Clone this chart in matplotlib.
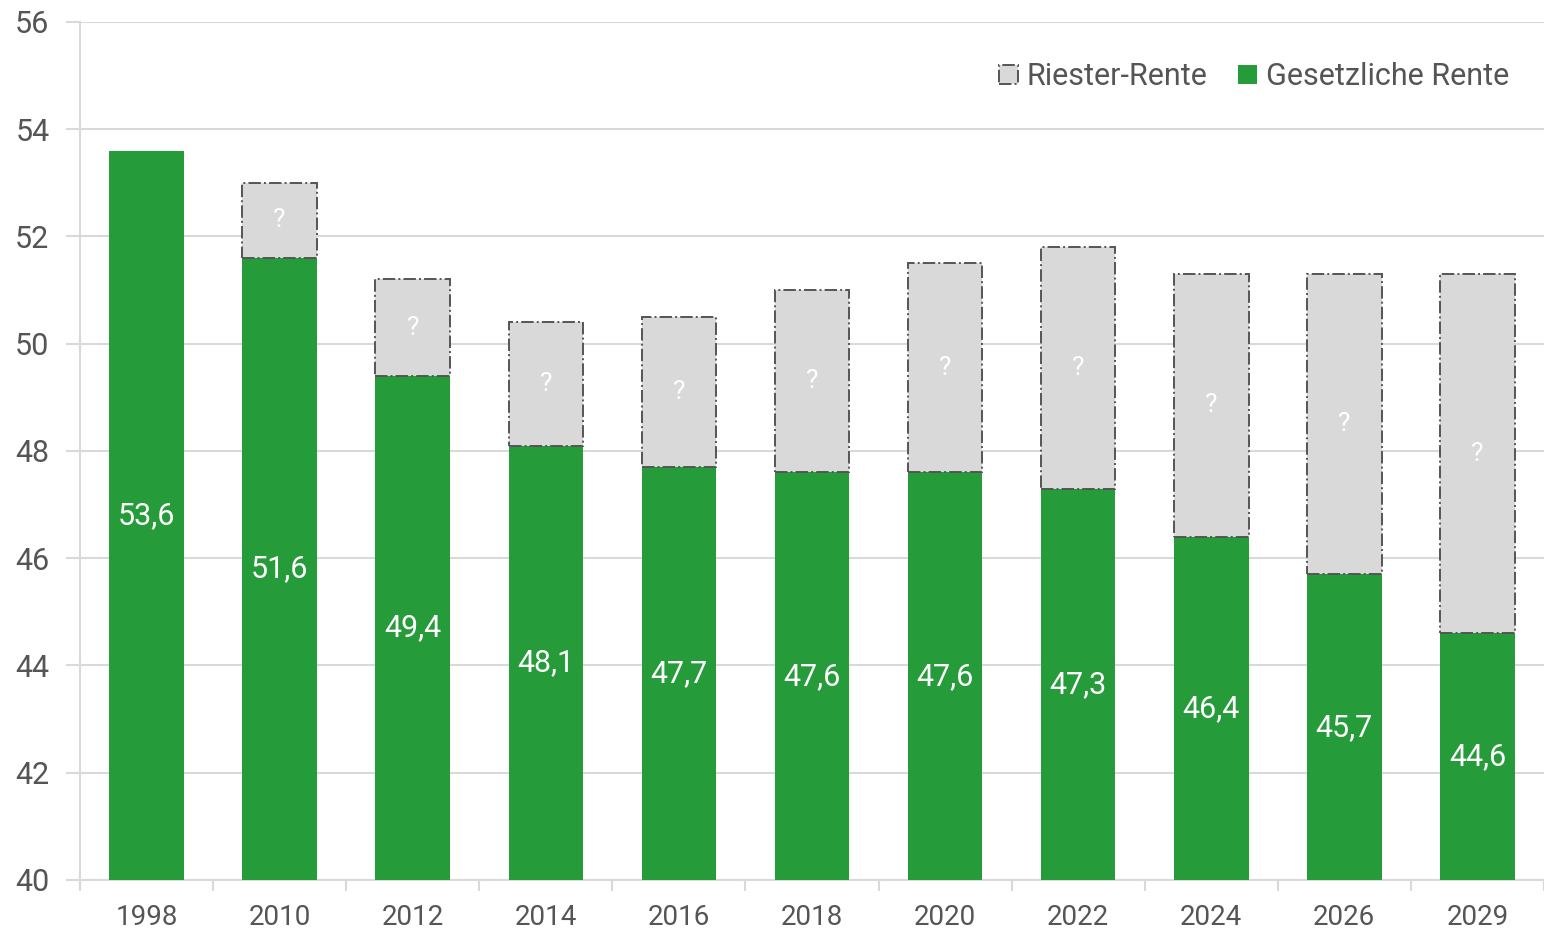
import matplotlib.pyplot as plt
import numpy as np

# data
jahre = ['1998', '2010', '2012', '2014', '2016', '2018', '2020', '2022', '2024', '2026', '2029']
gesetzlich = [53.6, 51.6, 49.4, 48.1, 47.7, 47.6, 47.6, 47.3, 46.4, 45.7, 44.6]
mit_riester = [None, 53.0, 51.2, 50.4, 50.5, 51.0, 51.5, 51.8, 51.3, 51.3, 51.3]

gruen = '#259b3a'
grau = '#d9d9d9'
text_farbe = '#555555'

plt.rcParams['font.family'] = ['Roboto', 'DejaVu Sans']

fig = plt.figure(figsize=(15.44, 9.32), dpi=100)
ax = fig.add_axes([0.0518, 0.0558, 0.9482, 0.9206])

x = np.arange(len(jahre))
breite = 0.56
basis = 40

# gesetzliche Rente
ax.bar(x, [g - basis for g in gesetzlich], breite, bottom=basis, color=gruen,
       label='Gesetzliche Rente', zorder=3)

# Riester-Rente (unbekannter Anteil)
riester_x = [i for i, r in enumerate(mit_riester) if r is not None]
riester_h = [mit_riester[i] - gesetzlich[i] for i in riester_x]
riester_b = [gesetzlich[i] for i in riester_x]
ax.bar(riester_x, riester_h, breite, bottom=riester_b, color=grau,
       edgecolor='#555555', linestyle='-.', linewidth=1.4,
       label='Riester-Rente', zorder=3)

# Beschriftungen
for i, g in enumerate(gesetzlich):
    ax.text(i, (basis + g) / 2, f'{g:.1f}'.replace('.', ','), ha='center', va='center',
            color='white', fontsize=22, zorder=4)
for i, h, b in zip(riester_x, riester_h, riester_b):
    ax.text(i, b + h / 2, '?', ha='center', va='center', color='white',
            fontsize=19, zorder=4)

ax.set_ylim(40, 56)
ax.set_xlim(-0.5, len(jahre) - 0.5)
ax.set_yticks(range(40, 57, 2))
ax.set_xticks(x)
ax.set_xticklabels(jahre)
ax.set_xticks(np.arange(-0.5, len(jahre), 1), minor=True)

ax.grid(axis='y', color='#d9d9d9', linewidth=1.5, zorder=0)
for s in ['top', 'right']:
    ax.spines[s].set_visible(False)
for s in ['left', 'bottom']:
    ax.spines[s].set_color('#d9d9d9')
    ax.spines[s].set_linewidth(1.5)

ax.tick_params(axis='y', colors='#d9d9d9', labelcolor=text_farbe, labelsize=22,
               length=10, width=1.5, pad=12)
ax.tick_params(axis='x', which='major', length=0, labelcolor=text_farbe,
               labelsize=20, pad=17)
ax.tick_params(axis='x', which='minor', length=8, width=1.5, colors='#d9d9d9')

handles, labels = ax.get_legend_handles_labels()
ax.legend(handles[::-1], labels[::-1], loc='upper right', ncol=2, frameon=False,
          fontsize=22, labelcolor=text_farbe, handlelength=0.6, handleheight=0.6,
          handletextpad=0.3, columnspacing=1.0, bbox_to_anchor=(0.995, 0.985))

fig.savefig('out.png', dpi=100)
